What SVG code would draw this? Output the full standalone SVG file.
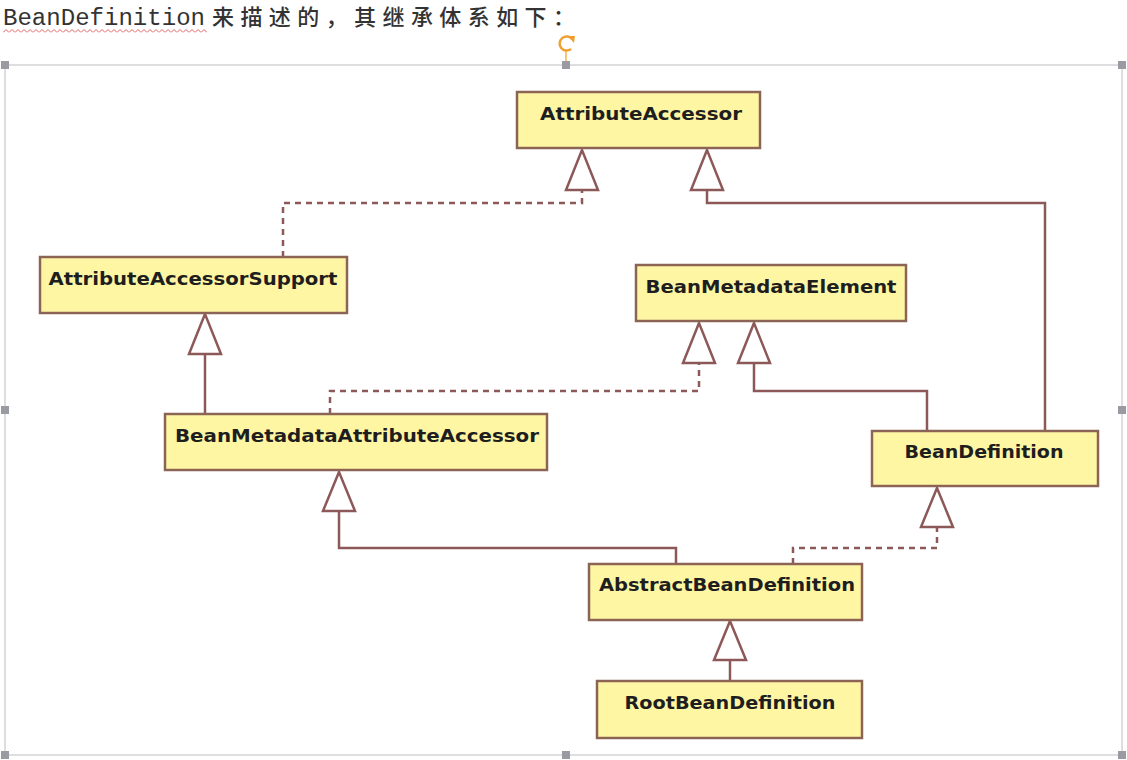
<svg xmlns="http://www.w3.org/2000/svg" width="1127" height="760" viewBox="0 0 1127 760">
<defs>
<pattern id="wave" x="3" y="29" width="6" height="4" patternUnits="userSpaceOnUse">
<path d="M0 3.5 L3 0.5 L6 3.5" fill="none" stroke="#e06060" stroke-width="1"/>
</pattern>
</defs>
<style>
.box{fill:#fff6a4;stroke:#8c6456;stroke-width:2.5}
.lbl{font-family:"DejaVu Sans",Verdana,sans-serif;font-weight:bold;font-size:18px;fill:#1e1e1e;text-anchor:middle}
.ln{fill:none;stroke:#8c5858;stroke-width:2.5}
.dash{stroke-dasharray:6 5}
.tri{fill:#fff;stroke:#8c5858;stroke-width:2.5;stroke-linejoin:miter}
.hdl{fill:#9a9aa2}
</style>
<rect width="1127" height="760" fill="#fff"/>
<g id="header">
<text x="3" y="25" font-family="'Liberation Mono','Courier New',monospace" font-size="23" fill="#333" textLength="202" lengthAdjust="spacingAndGlyphs">BeanDefinition</text>
<text x="212" y="25" font-family="'Noto Sans CJK SC',sans-serif" font-size="22" font-weight="500" fill="#333" textLength="363" lengthAdjust="spacing">来描述的，其继承体系如下：</text>
<rect x="3" y="29" width="204" height="4" fill="url(#wave)"/>
</g>
<g id="selection">
<rect x="5" y="65" width="1117" height="690" fill="none" stroke="#d4d4d8" stroke-width="1.5"/>
<line x1="566" y1="50" x2="566" y2="62" stroke="#f0b050" stroke-width="1.5"/>
<path d="M572 39 A7 7 0 1 0 571 49" fill="none" stroke="#f0a030" stroke-width="2.5"/>
<path d="M568 36 L575 36 L574 43 Z" fill="#f0a030"/>
<rect class="hdl" x="1" y="61" width="8" height="8"/>
<rect class="hdl" x="562" y="61" width="8" height="8"/>
<rect class="hdl" x="1118" y="61" width="8" height="8"/>
<rect class="hdl" x="1" y="406" width="8" height="8"/>
<rect class="hdl" x="1118" y="406" width="8" height="8"/>
<rect class="hdl" x="1" y="751" width="8" height="8"/>
<rect class="hdl" x="562" y="751" width="8" height="8"/>
<rect class="hdl" x="1118" y="751" width="8" height="8"/>
</g>
<g id="connectors">
<path class="ln dash" d="M283 257 V203 H582 V190"/>
<polygon class="tri" points="582,150 566,190 598,190"/>
<path class="ln" d="M1045 431 V203 H707 V190"/>
<polygon class="tri" points="707,150 691,190 723,190"/>
<path class="ln" d="M205 414 V354"/>
<polygon class="tri" points="205,314 189,354 221,354"/>
<path class="ln dash" d="M330 414 V391 H699 V363"/>
<polygon class="tri" points="699,323 683,363 715,363"/>
<path class="ln" d="M927 431 V391 H754 V363"/>
<polygon class="tri" points="754,323 738,363 770,363"/>
<path class="ln" d="M676 564 V548 H339 V511"/>
<polygon class="tri" points="339,472 323,511 355,511"/>
<path class="ln dash" d="M793 564 V548 H937 V527"/>
<polygon class="tri" points="937,488 921,527 953,527"/>
<path class="ln" d="M730 681 V660"/>
<polygon class="tri" points="730,621 714,660 746,660"/>
</g>
<g id="AttributeAccessor">
<rect class="box" x="517" y="92" width="243" height="56"/>
<text class="lbl" x="641" y="120" textLength="202" lengthAdjust="spacingAndGlyphs">AttributeAccessor</text>
</g>
<g id="AttributeAccessorSupport">
<rect class="box" x="40" y="257" width="307" height="56"/>
<text class="lbl" x="193" y="285" textLength="289" lengthAdjust="spacingAndGlyphs">AttributeAccessorSupport</text>
</g>
<g id="BeanMetadataElement">
<rect class="box" x="636" y="265" width="270" height="56"/>
<text class="lbl" x="771" y="293" textLength="251" lengthAdjust="spacingAndGlyphs">BeanMetadataElement</text>
</g>
<g id="BeanMetadataAttributeAccessor">
<rect class="box" x="165" y="414" width="382" height="56"/>
<text class="lbl" x="357" y="442" textLength="364" lengthAdjust="spacingAndGlyphs">BeanMetadataAttributeAccessor</text>
</g>
<g id="BeanDefinition">
<rect class="box" x="872" y="431" width="226" height="55"/>
<text class="lbl" x="984" y="458" textLength="159" lengthAdjust="spacingAndGlyphs">BeanDefinition</text>
</g>
<g id="AbstractBeanDefinition">
<rect class="box" x="589" y="564" width="273" height="56"/>
<text class="lbl" x="727" y="591" textLength="256" lengthAdjust="spacingAndGlyphs">AbstractBeanDefinition</text>
</g>
<g id="RootBeanDefinition">
<rect class="box" x="597" y="681" width="265" height="57"/>
<text class="lbl" x="730" y="709" textLength="211" lengthAdjust="spacingAndGlyphs">RootBeanDefinition</text>
</g>
</svg>
